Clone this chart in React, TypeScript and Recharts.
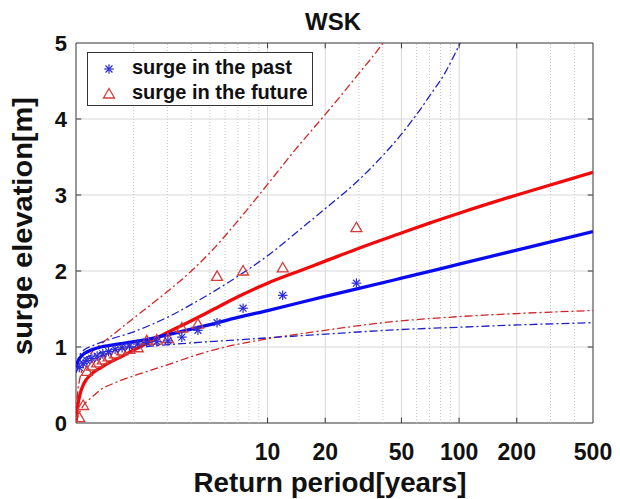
import { ComposedChart, Line, Scatter, XAxis, YAxis, ReferenceLine, ReferenceArea } from 'recharts';

// Return periods (years) and surge levels (m) for each curve
const fitPastT = [1, 1.02, 1.05, 1.1, 1.2, 1.35, 1.5, 2, 2.5, 3, 4, 5, 7, 10, 20, 30, 50, 100, 200, 500];
const fitPastY = [0.72, 0.8, 0.86, 0.91, 0.96, 1.0, 1.02, 1.07, 1.115, 1.16, 1.235, 1.295, 1.39, 1.48, 1.665, 1.77, 1.905, 2.09, 2.275, 2.52];

const fitFutureT = [1, 1.02, 1.05, 1.1, 1.2, 1.35, 1.5, 1.75, 2, 2.5, 3, 4, 5, 7, 10, 15, 20, 30, 50, 70, 100, 200, 500];
const fitFutureY = [0.03, 0.22, 0.38, 0.52, 0.64, 0.73, 0.8, 0.88, 0.96, 1.085, 1.19, 1.345, 1.47, 1.66, 1.84, 2.01, 2.13, 2.3, 2.5, 2.63, 2.76, 3.0, 3.3];

const pastUpperT = [1, 1.05, 1.1, 1.2, 1.35, 1.5, 2, 2.5, 3, 4, 5, 7, 10, 15, 20, 30, 40, 50, 60, 70, 85, 100, 110];
const pastUpperY = [0.76, 0.9, 0.96, 1.01, 1.06, 1.1, 1.2, 1.3, 1.39, 1.56, 1.7, 1.93, 2.2, 2.56, 2.82, 3.2, 3.52, 3.8, 4.06, 4.3, 4.62, 4.97, 5.18];

const pastLowerT = [1, 1.05, 1.1, 1.2, 1.35, 1.5, 2, 3, 5, 10, 20, 50, 100, 200, 500];
const pastLowerY = [0.66, 0.78, 0.84, 0.89, 0.93, 0.95, 0.99, 1.03, 1.07, 1.12, 1.17, 1.23, 1.26, 1.29, 1.32];

const futureUpperT = [1, 1.02, 1.05, 1.1, 1.2, 1.35, 1.5, 2, 3, 4, 5, 7, 10, 14, 20, 30, 40, 45];
const futureUpperY = [0.1, 0.4, 0.6, 0.78, 0.92, 1.04, 1.13, 1.38, 1.73, 2.0, 2.24, 2.66, 3.14, 3.6, 4.06, 4.6, 5.0, 5.2];

const futureLowerT = [1, 1.03, 1.1, 1.2, 1.33, 1.6, 2, 2.43, 3, 4.44, 6, 9.1, 20, 40, 100, 200, 500];
const futureLowerY = [0.0, 0.1, 0.24, 0.33, 0.43, 0.53, 0.62, 0.69, 0.765, 0.91, 1.0, 1.09, 1.22, 1.32, 1.4, 1.44, 1.48];

// observed surges, ranked, with their plotting-position return periods
const rankT = [29.1, 12.0, 7.45, 5.45, 4.33, 3.57, 3.02, 2.64, 2.34, 2.1, 1.9, 1.74, 1.6, 1.48, 1.38, 1.29, 1.21, 1.14, 1.09, 1.04];
const pastObs = [1.84, 1.68, 1.51, 1.32, 1.22, 1.13, 1.08, 1.07, 1.06, 1.04, 1.01, 0.99, 0.97, 0.94, 0.91, 0.88, 0.85, 0.82, 0.78, 0.73];
const futureObs = [2.57, 2.04, 2.0, 1.93, 1.3, 1.25, 1.11, 1.09, 1.08, 0.99, 0.97, 0.95, 0.91, 0.87, 0.83, 0.79, 0.75, 0.68, 0.23, 0.07];

const xTicks = [10, 20, 50, 100, 200, 500];
const yTicks = [0, 1, 2, 3, 4, 5];
const majorX = [10, 20, 50, 100, 200];
const minorX = [2, 3, 4, 5, 6, 7, 8, 9, 30, 40, 60, 70, 80, 90, 300, 400];
const gridY = [1, 2, 3, 4];

const zip = (xs: number[], ys: number[]) => xs.map((x, i) => ({ x, y: ys[i] }));

const FONT = '"Liberation Sans", Arial, sans-serif';
const BLUE = '#0a0af0';
const RED = '#f00a0a';
const BLUE_DD = '#2020c8';
const RED_DD = '#d42424';
const DASHDOT = '8 3 2 3';

const Asterisk = (props: any) => {
    const { cx, cy } = props;
    const r = 4.8;
    const d = r * 0.72;
    return (
        <g stroke="#2a2ad8" strokeWidth={1.2}>
            <line x1={cx - r} y1={cy} x2={cx + r} y2={cy} />
            <line x1={cx} y1={cy - r} x2={cx} y2={cy + r} />
            <line x1={cx - d} y1={cy - d} x2={cx + d} y2={cy + d} />
            <line x1={cx - d} y1={cy + d} x2={cx + d} y2={cy - d} />
        </g>
    );
};

const Triangle = (props: any) => {
    const { cx, cy } = props;
    return (
        <polygon
            points={`${cx},${cy - 5.5} ${cx + 5.5},${cy + 4} ${cx - 5.5},${cy + 4}`}
            fill="none"
            stroke="#d23c3c"
            strokeWidth={1.3}
        />
    );
};

export default function App() {
    const tickStyle = { fontSize: 22, fontWeight: 700, fill: '#111', fontFamily: FONT };

    return (
        <div style={{ position: 'absolute', left: 0, top: 0, width: 620, height: 499, background: '#fff' }}>
            <ComposedChart width={620} height={499} margin={{ top: 43, right: 27, bottom: 36, left: 36 }}>
                <XAxis
                    dataKey="x"
                    type="number"
                    scale="log"
                    domain={[1, 500]}
                    ticks={xTicks}
                    allowDataOverflow
                    height={40}
                    axisLine={false}
                    tickLine={false}
                    tickSize={0}
                    tickMargin={21}
                    tick={{ ...tickStyle, fontSize: 23 }}
                />
                <YAxis
                    type="number"
                    dataKey="y"
                    domain={[0, 5]}
                    ticks={yTicks}
                    allowDataOverflow
                    width={40}
                    axisLine={false}
                    tickLine={false}
                    tickSize={0}
                    tickMargin={9}
                    tick={tickStyle}
                />

                {/* grid */}
                {minorX.map(v => (
                    <ReferenceLine key={'mx' + v} x={v} stroke="#c4c4c4" strokeWidth={1} strokeDasharray="1 2" />
                ))}
                {majorX.map(v => (
                    <ReferenceLine key={'gx' + v} x={v} stroke="#d8d8d8" strokeWidth={1} />
                ))}
                {gridY.map(v => (
                    <ReferenceLine key={'gy' + v} y={v} stroke="#d8d8d8" strokeWidth={1} />
                ))}

                {/* confidence bounds */}
                <Line data={zip(futureUpperT, futureUpperY)} dataKey="y" type="monotone" stroke={RED_DD} strokeWidth={1.3} strokeDasharray={DASHDOT} dot={false} isAnimationActive={false} />
                <Line data={zip(futureLowerT, futureLowerY)} dataKey="y" type="monotone" stroke={RED_DD} strokeWidth={1.3} strokeDasharray={DASHDOT} dot={false} isAnimationActive={false} />
                <Line data={zip(pastUpperT, pastUpperY)} dataKey="y" type="monotone" stroke={BLUE_DD} strokeWidth={1.3} strokeDasharray={DASHDOT} dot={false} isAnimationActive={false} />
                <Line data={zip(pastLowerT, pastLowerY)} dataKey="y" type="monotone" stroke={BLUE_DD} strokeWidth={1.3} strokeDasharray={DASHDOT} dot={false} isAnimationActive={false} />

                {/* fitted curves */}
                <Line data={zip(fitFutureT, fitFutureY)} dataKey="y" type="monotone" stroke={RED} strokeWidth={3.3} dot={false} isAnimationActive={false} />
                <Line data={zip(fitPastT, fitPastY)} dataKey="y" type="monotone" stroke={BLUE} strokeWidth={3.3} dot={false} isAnimationActive={false} />

                {/* observations */}
                <Scatter data={zip(rankT, futureObs)} dataKey="y" shape={<Triangle />} isAnimationActive={false} />
                <Scatter data={zip(rankT, pastObs)} dataKey="y" shape={<Asterisk />} isAnimationActive={false} />

                {/* inward ticks on all four sides */}
                {majorX.map(v => (
                    <ReferenceLine key={'tb' + v} segment={[{ x: v, y: 0 }, { x: v, y: 0.07 }]} stroke="#333" />
                ))}
                {majorX.map(v => (
                    <ReferenceLine key={'tt' + v} segment={[{ x: v, y: 4.93 }, { x: v, y: 5 }]} stroke="#333" />
                ))}
                {gridY.map(v => (
                    <ReferenceLine key={'tl' + v} segment={[{ x: 1, y: v }, { x: 1.065, y: v }]} stroke="#333" />
                ))}
                {gridY.map(v => (
                    <ReferenceLine key={'tr' + v} segment={[{ x: 469.5, y: v }, { x: 500, y: v }]} stroke="#333" />
                ))}
                <ReferenceArea x1={1} x2={500} y1={0} y2={5} fill="none" stroke="#333" strokeWidth={1} ifOverflow="visible" />
            </ComposedChart>

            <svg width={620} height={499} style={{ position: 'absolute', left: 0, top: 0, pointerEvents: 'none' }}>
                <text x={333} y={30} textAnchor="middle" fontFamily={FONT} fontWeight={700} fontSize={24} fill="#111">WSK</text>
                <text x={330} y={492} textAnchor="middle" fontFamily={FONT} fontWeight={700} fontSize={27} fill="#111" textLength={273} lengthAdjust="spacingAndGlyphs">Return period[years]</text>
                <text transform="translate(32,226) rotate(-90)" textAnchor="middle" fontFamily={FONT} fontWeight={700} fontSize={27} fill="#111" textLength={258} lengthAdjust="spacingAndGlyphs">surge elevation[m]</text>
            </svg>

            {/* legend */}
            <div style={{ position: 'absolute', left: 87, top: 52, width: 224, height: 52, border: '1px solid #333', background: '#fff', fontFamily: FONT, fontWeight: 700, fontSize: 20, color: '#111' }}>
                <div style={{ position: 'absolute', left: 0, top: 3, display: 'flex', alignItems: 'center' }}>
                    <svg width={44} height={22}><Asterisk cx={21} cy={12} /></svg>
                    <span>surge in the past</span>
                </div>
                <div style={{ position: 'absolute', left: 0, top: 28, display: 'flex', alignItems: 'center' }}>
                    <svg width={44} height={22}><Triangle cx={21} cy={12} /></svg>
                    <span>surge in the future</span>
                </div>
            </div>
        </div>
    );
}
